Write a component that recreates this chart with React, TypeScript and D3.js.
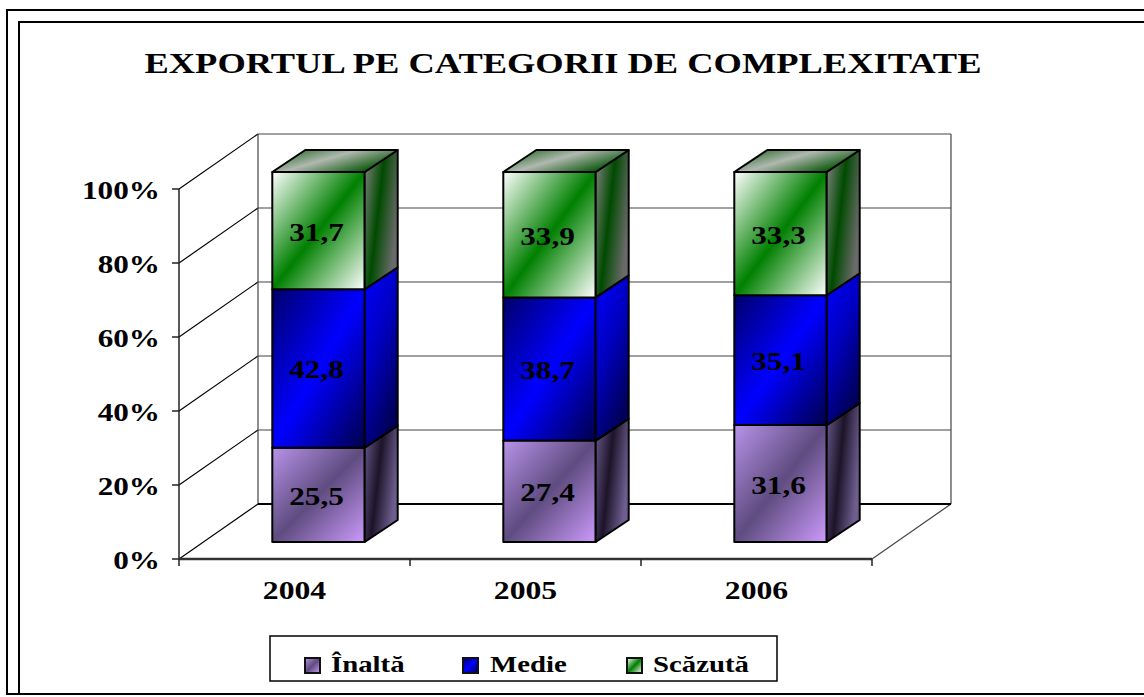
import React from "react";
import * as d3 from "d3";

// data
const years = ["2004", "2005", "2006"];
const seriesNames = ["Înaltă", "Medie", "Scăzută"];
const inalta = [25.5, 27.4, 31.6];
const medie = [42.8, 38.7, 35.1];
const scazuta = [31.7, 33.9, 33.3];
const yTicks = [0, 20, 40, 60, 80, 100];

const W = 1144;
const H = 697;
const FONT = "Times New Roman, Liberation Serif, Tinos, Times, serif";

// plot geometry (front plane)
const left = 179;
const right = 872;
const bottom = 559;
const top = 189;
// depth of floor / walls
const FDX = 79;
const FDY = -55;
// bar offset from front plane, and bar depth
const OX = 24;
const OY = -17;
const DX = 33;
const DY = -22;

const gradDefs = [
  { id: "g0-front", x2: 1, y2: 1, stops: ["#b893ea", "#5f4c80", "#cc9bfc"] },
  { id: "g0-side", x2: 1, y2: 0.4, stops: ["#6a5a8c", "#1c1428", "#6e5e90"] },
  { id: "g0-top", x2: 1, y2: 1, stops: ["#8a70b0", "#cbb0f0", "#7a60a0"] },
  { id: "g1-front", x2: 1, y2: 1, stops: ["#00006a", "#0000ff", "#00004a"] },
  { id: "g1-side", x2: 0.5, y2: 1, stops: ["#0000ff", "#0000c0", "#00005a"] },
  { id: "g1-top", x2: 1, y2: 1, stops: ["#0000a0", "#3030ff", "#000080"] },
  { id: "g2-front", x2: 1, y2: 1, stops: ["#ffffff", "#008000", "#ffffff"] },
  { id: "g2-side", x2: 1, y2: 0.5, stops: ["#858585", "#004a00", "#6a6a6a"] },
  { id: "g2-top", x2: 1, y2: 0.6, stops: ["#0a5a0a", "#b0b8b0", "#005000"] },
];

const StretchText: React.FC<{
  x: number;
  y: number;
  size: number;
  sx?: number;
  anchor?: "start" | "middle" | "end";
  children: React.ReactNode;
}> = ({ x, y, size, sx = 1.25, anchor = "middle", children }) => (
  <text
    transform={`translate(${x},${y}) scale(${sx},1)`}
    textAnchor={anchor}
    style={{ fontFamily: FONT, fontWeight: "bold", fontSize: size }}
    fill="#000"
  >
    {children}
  </text>
);

export default function App() {
  const rows = years.map((yr, i) => ({
    year: yr,
    [seriesNames[0]]: inalta[i],
    [seriesNames[1]]: medie[i],
    [seriesNames[2]]: scazuta[i],
  }));
  const stacked = d3.stack<any>().keys(seriesNames)(rows);

  const xAxis = d3.scaleBand().domain(years).range([left, right]).padding(0);
  const xBar = d3
    .scaleBand()
    .domain(years)
    .range([left, right])
    .paddingInner(0.6)
    .paddingOuter(0.3);
  const y = d3.scaleLinear().domain([0, 100]).range([bottom, top]);
  const bw = xBar.bandwidth();

  const pts = (p: number[][]) => p.map((d) => d.join(",")).join(" ");

  const legendItems = [
    { x: 305, tx: 331 },
    { x: 463, tx: 490 },
    { x: 627, tx: 653 },
  ];

  return (
    <svg
      width={W}
      height={H}
      style={{ position: "absolute", left: 0, top: 0, background: "#fff" }}
    >
      <defs>
        {gradDefs.map((g) => (
          <linearGradient key={g.id} id={g.id} x1={0} y1={0} x2={g.x2} y2={g.y2}>
            {g.stops.map((c, k) => (
              <stop key={k} offset={k / (g.stops.length - 1)} stopColor={c} />
            ))}
          </linearGradient>
        ))}
      </defs>

      {/* frames */}
      <rect x={7} y={10} width={W} height={684} fill="none" stroke="#000" strokeWidth={2} />
      <rect x={19} y={22} width={W} height={672} fill="none" stroke="#000" strokeWidth={2} />

      {/* title */}
      <text
        x={563}
        y={73}
        textAnchor="middle"
        style={{ fontFamily: FONT, fontWeight: "bold", fontSize: 29 }}
        textLength={837}
        lengthAdjust="spacingAndGlyphs"
      >
        EXPORTUL PE CATEGORII DE COMPLEXITATE
      </text>

      {/* walls and gridlines */}
      <g stroke="#444" strokeWidth={1.2} fill="none">
        {yTicks.map((t) => (
          <g key={t}>
            <line x1={left + FDX} x2={right + FDX} y1={y(t) + FDY} y2={y(t) + FDY} />
            <line x1={left} x2={left + FDX} y1={y(t)} y2={y(t) + FDY} stroke="#000" />
          </g>
        ))}
        <line x1={left + FDX} x2={left + FDX} y1={y(100) + FDY} y2={y(0) + FDY} />
        <line x1={right + FDX} x2={right + FDX} y1={y(100) + FDY} y2={y(0) + FDY} />
        <line x1={right} x2={right + FDX} y1={y(0)} y2={y(0) + FDY} />
        <line x1={left + FDX} x2={right + FDX} y1={y(0) + FDY} y2={y(0) + FDY} stroke="#000" strokeWidth={2} />
      </g>

      {/* axes */}
      <g stroke="#222" strokeWidth={1.5}>
        <line x1={left} x2={left} y1={y(100)} y2={y(0)} />
        <line x1={left} x2={right} y1={y(0)} y2={y(0)} strokeWidth={2.5} stroke="#333" />
        {yTicks.map((t) => (
          <line key={t} x1={left - 7} x2={left} y1={y(t)} y2={y(t)} />
        ))}
        {[...years.map((yr) => xAxis(yr)!), right].map((xv, k) => (
          <line key={k} x1={xv} x2={xv} y1={y(0)} y2={y(0) + 7} />
        ))}
      </g>

      {yTicks.map((t) => (
        <StretchText key={t} x={160} y={y(t) + 10} size={26} sx={1.2} anchor="end">
          {t}%
        </StretchText>
      ))}
      {years.map((yr) => (
        <StretchText key={yr} x={xAxis(yr)! + xAxis.bandwidth() / 2} y={599} size={26} sx={1.22}>
          {yr}
        </StretchText>
      ))}

      {/* bars */}
      {years.map((yr, i) => (
        <g key={yr}>
          {stacked.map((s, si) => {
            const d = s[i];
            const xl = xBar(yr)! + OX;
            const xr = xl + bw;
            const yb = y(d[0]) + OY;
            const yt = y(d[1]) + OY;
            const isTop = si === stacked.length - 1;
            return (
              <g key={si} stroke="#000" strokeWidth={2} strokeLinejoin="round">
                <rect x={xl} y={yt} width={bw} height={yb - yt} fill={`url(#g${si}-front)`} />
                <polygon
                  points={pts([
                    [xr, yb],
                    [xr, yt],
                    [xr + DX, yt + DY],
                    [xr + DX, yb + DY],
                  ])}
                  fill={`url(#g${si}-side)`}
                />
                {isTop && (
                  <polygon
                    points={pts([
                      [xl, yt],
                      [xr, yt],
                      [xr + DX, yt + DY],
                      [xl + DX, yt + DY],
                    ])}
                    fill={`url(#g${si}-top)`}
                  />
                )}
              </g>
            );
          })}
          {stacked.map((s, si) => {
            const d = s[i];
            const cx = xBar(yr)! + OX + bw / 2;
            const cy = (y(d[0]) + y(d[1])) / 2 + OY;
            return (
              <StretchText key={si} x={cx - 2} y={cy + 10} size={26} sx={1.2}>
                {String(d.data[seriesNames[si]]).replace(".", ",")}
              </StretchText>
            );
          })}
        </g>
      ))}

      {/* legend */}
      <rect x={270} y={636} width={507} height={45} fill="#fff" stroke="#000" strokeWidth={1.5} />
      {legendItems.map((it, k) => (
        <g key={k}>
          <rect
            x={it.x}
            y={658}
            width={15}
            height={15}
            fill={`url(#g${k}-front)`}
            stroke="#111"
            strokeWidth={2}
          />
          <StretchText x={it.tx} y={672} size={24} sx={1.2} anchor="start">
            {seriesNames[k]}
          </StretchText>
        </g>
      ))}
    </svg>
  );
}
